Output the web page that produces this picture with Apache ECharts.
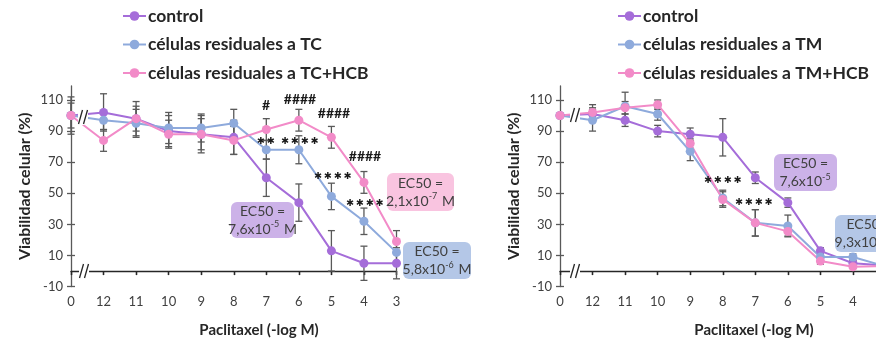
<!DOCTYPE html>
<html><head><meta charset="utf-8">
<script src="https://cdn.jsdelivr.net/npm/echarts@6/dist/echarts.min.js"></script>
<style>html,body{margin:0;padding:0;background:#fff;overflow:hidden}#c{width:900px;height:343px}</style>
</head><body><div id="c"></div>
<script>
// ---- data ----
const categories = ['0','12','11','10','9','8','7','6','5','4','3'];
const yTicks = [-10,10,30,50,70,90,110];
// left panel (TC)
const controlTC     = [100,102,98,90,88,86,60,44,13,5,5];
const controlTCErr  = [0,12,11,10,10,11,12,12,13,11,10];
const residTC       = [100,97,95,92,92,95,78,78,48,32,12];
const residTCErr    = [8,6,9,10,9,9,6,9,8.5,8.5,8];
const residTCHCB    = [100,84,98,88,88,84,91,97,86,57,19];
const residTCHCBErr = [12,7,8,9,12,9,7,7,7,7,7];
// right panel (TM)
const controlTM     = [100,101,97,90,88,86,60,44,13,5,3.5];
const controlTMErr  = [0,4,4,3.7,4,12,3.7,3,2,2,1];
const residTM       = [100,97,106,101,77,47,31,29,9,9,3];
const residTMErr    = [0,7,9,4,6,5,8.5,7,2,2,1];
const residTMHCB    = [100,102,105,107,82,46,31,25.5,6.4,2.8,3.3];
const residTMHCBErr = [0,5,4,3,3,5,8.5,3,2,1,1];
const names = ['control','células residuales a TC','células residuales a TC+HCB','células residuales a TM','células residuales a TM+HCB'];

const C_PURPLE = '#a56dd9', C_BLUE = '#8eaadc', C_PINK = '#f28bc8';
const FONT = 'Lato';
const chart = echarts.init(document.getElementById('c'));

function grid(left){ return {left:left, width:325.5, top:86, height:200.6, containLabel:false}; }
function xAxes(g){
  return [
    {type:'category', gridIndex:g, data:categories, boundaryGap:false,
     axisLine:{onZero:true, lineStyle:{color:'#262626', width:1.3}},
     axisTick:{show:true, inside:false, length:4, interval:0, lineStyle:{color:'#262626', width:1.3}},
     axisLabel:{show:false}, splitLine:{show:false}},
    {type:'category', gridIndex:g, data:categories, boundaryGap:false,
     axisLine:{onZero:true, show:false},
     axisTick:{show:true, inside:true, length:4, interval:0, lineStyle:{color:'#262626', width:1.3}},
     axisLabel:{show:false}, splitLine:{show:false}},
    {type:'category', gridIndex:g, data:categories, boundaryGap:false, position:'bottom',
     axisLine:{onZero:false, show:false}, axisTick:{show:false},
     axisLabel:{show:true, interval:0, margin:9, color:'#404040', fontSize:13, fontFamily:FONT},
     splitLine:{show:false}}
  ];
}
function yAxes(g){
  return [
    {type:'value', gridIndex:g, position:'left', min:-10, max:119, interval:20,
     axisLine:{show:true, lineStyle:{color:'#595959', width:1.3}},
     axisTick:{show:true, length:4, lineStyle:{color:'#595959', width:1.3}, customValues:yTicks},
     axisLabel:{color:'#404040', fontSize:13, fontFamily:FONT, margin:8, customValues:yTicks},
     splitLine:{show:false},
     name:'Viabilidad celular (%)', nameLocation:'middle', nameGap:38,
     nameTextStyle:{fontSize:16, fontWeight:'bold', color:'#262626', fontFamily:FONT}},
    {type:'value', gridIndex:g, position:'left', min:-10, max:119, interval:20,
     axisLine:{show:false},
     axisTick:{show:true, inside:true, length:4, lineStyle:{color:'#595959', width:1.3}, customValues:yTicks},
     axisLabel:{show:false}, splitLine:{show:false}}
  ];
}
function lineSeries(name, data, color, xi, yi){
  return {type:'line', name:name, data:data, xAxisIndex:xi, yAxisIndex:yi,
    symbol:'circle', symbolSize:9, color:color, z:5,
    lineStyle:{width:2, color:color}, itemStyle:{color:color}, emphasis:{disabled:true}};
}
function errSeries(vals, errs, xi, yi){
  return {type:'custom', name:'err', xAxisIndex:xi, yAxisIndex:yi, z:3, silent:true,
    data: vals.map((v,i)=>[i, v, errs[i]]),
    encode:{x:0, y:1},
    renderItem:function(params, api){
      const i = api.value(0), v = api.value(1), e = api.value(2);
      if(!e) return {type:'group', children:[]};
      const top = api.coord([i, v+e]), bot = api.coord([i, v-e]);
      const w = 3.5, st = {stroke:'#595959', lineWidth:1.3};
      return {type:'group', children:[
        {type:'line', shape:{x1:top[0], y1:top[1], x2:bot[0], y2:bot[1]}, style:st},
        {type:'line', shape:{x1:top[0]-w, y1:top[1], x2:top[0]+w, y2:top[1]}, style:st},
        {type:'line', shape:{x1:bot[0]-w, y1:bot[1], x2:bot[0]+w, y2:bot[1]}, style:st}
      ]};
    }};
}

function ecBox(x, y, w, h, fill, base, exp, unit){
  return [
    {type:'rect', shape:{x:x, y:y, width:w, height:h, r:6}, style:{fill:fill}, z:20},
    {type:'text', x:x+w/2, y:y+h/2, z:21, style:{
      text:'{a|EC50 =}\n{a|'+base+'}{s|'+exp+'}{a|'+unit+'}',
      align:'center', verticalAlign:'middle', fill:'#404040',
      rich:{a:{fontSize:14, fontFamily:FONT, lineHeight:18, fill:'#404040'},
            s:{fontSize:9, fontFamily:FONT, verticalAlign:'top', lineHeight:18, padding:[0,1,8,0], fill:'#404040'}}}}
  ];
}
function mark(x, y, t, size, font){
  return {type:'text', x:x, y:y, z:22, style:{text:t, align:'center', verticalAlign:'middle',
    fontSize:size, fontWeight:'bold', fontFamily:font || FONT, fill:'#1a1a1a'}};
}
function stars(x, y, n){
  return mark(x, y, Array(n).fill('✱').join('\u2009'), 9.5, 'DejaVu Sans');
}
function brk(x, y){
  return [
    {type:'rect', shape:{x:x-5, y:y-8, width:10, height:16}, style:{fill:'#fff'}, z:15},
    {type:'line', shape:{x1:x-4.5, y1:y+7, x2:x-0.5, y2:y-7}, style:{stroke:'#262626', lineWidth:1.3}, z:16},
    {type:'line', shape:{x1:x+0.5, y1:y+7, x2:x+4.5, y2:y-7}, style:{stroke:'#262626', lineWidth:1.3}, z:16}
  ];
}

const graphics = [].concat(
  ecBox(231, 202, 63, 36, '#ccb2e8', '7,6x10', '-5', ' M'),
  ecBox(387, 173, 67, 38, '#f9c4e0', '2,1x10', '-7', ' M'),
  ecBox(403, 242, 68, 37, '#b4c7e7', '5,8x10', '-6', ' M'),
  ecBox(774, 154, 63, 37, '#ccb2e8', '7,6x10', '-5', ''),
  ecBox(835, 215, 68, 37, '#b4c7e7', '9,3x10', '-7', ' M'),
  [mark(266,105,'#',14), mark(300,99,'####',14), mark(334,113,'####',14), mark(365,156,'####',14),
   stars(266,142,2), stars(300,142,4), stars(333,177,4), stars(365,204,4),
   stars(723,181,4), stars(754,203,4)],
  brk(83,117), brk(84,271), brk(575,115), brk(575,271),
  [{type:'text', x:259, y:330, style:{text:'Paclitaxel (-log M)', align:'center', verticalAlign:'middle',
     fontSize:15, fontWeight:'bold', fontFamily:FONT, fill:'#262626'}},
   {type:'text', x:754, y:330, style:{text:'Paclitaxel (-log M)', align:'center', verticalAlign:'middle',
     fontSize:15, fontWeight:'bold', fontFamily:FONT, fill:'#262626'}}]
);

const legendCommon = {orient:'vertical', itemWidth:23, itemHeight:12, itemGap:10.5, top:7, padding:0,
  textStyle:{fontSize:17.5, fontWeight:'bold', fontFamily:FONT, color:'#262626', padding:[0,0,0,-3]}};

chart.setOption({
  animation:false,
  grid:[grid(71), grid(560)],
  xAxis: xAxes(0).concat(xAxes(1)),
  yAxis: yAxes(0).concat(yAxes(1)),
  legend:[
    Object.assign({}, legendCommon, {left:122, data:[names[0], names[1], names[2]]}),
    Object.assign({}, legendCommon, {left:617, data:[names[0], names[3], names[4]]})
  ],
  series:[
    errSeries(controlTC, controlTCErr, 0, 0),
    errSeries(residTC, residTCErr, 0, 0),
    errSeries(residTCHCB, residTCHCBErr, 0, 0),
    lineSeries(names[0], controlTC, C_PURPLE, 0, 0),
    lineSeries(names[1], residTC, C_BLUE, 0, 0),
    lineSeries(names[2], residTCHCB, C_PINK, 0, 0),
    errSeries(controlTM, controlTMErr, 3, 2),
    errSeries(residTM, residTMErr, 3, 2),
    errSeries(residTMHCB, residTMHCBErr, 3, 2),
    lineSeries(names[0], controlTM, C_PURPLE, 3, 2),
    lineSeries(names[3], residTM, C_BLUE, 3, 2),
    lineSeries(names[4], residTMHCB, C_PINK, 3, 2)
  ],
  graphic: graphics
});
</script></body></html>
